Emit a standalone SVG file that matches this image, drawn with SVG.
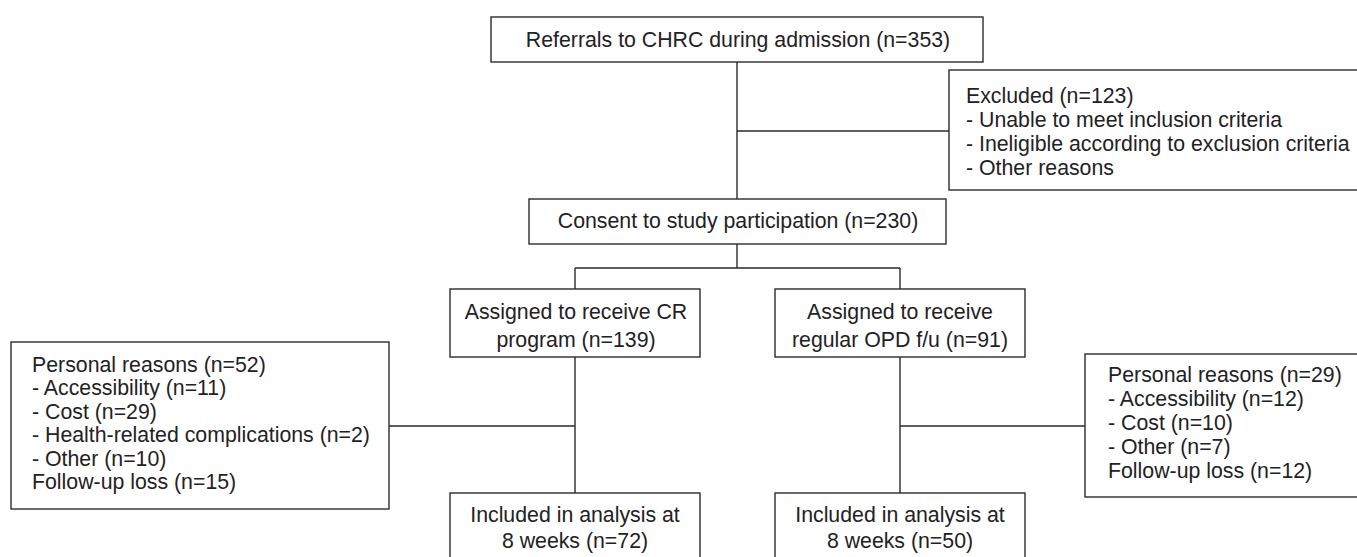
<svg xmlns="http://www.w3.org/2000/svg" width="1357" height="557" viewBox="0 0 1357 557">
<style>
.box{fill:#fff;stroke:#2b2b2b;stroke-width:1.4}
.ln{stroke:#2b2b2b;stroke-width:1.4;fill:none}
text{font-family:"Liberation Sans",Arial,sans-serif;font-size:21.3px;fill:#222}
.c{text-anchor:middle}
</style>
<rect width="1357" height="557" fill="#fff"/>
<g id="connectors">
<path class="ln" d="M737 62V199M737 131H949M737 244V268M575 268H900M575 268V289M900 268V289M575 357V493M389 426H575M900 357V493M900 426H1085"/>
</g>
<g id="referrals">
<rect class="box" x="491" y="17" width="492" height="45"/>
<text class="c" x="738" y="47">Referrals to CHRC during admission (n=353)</text>
</g>
<g id="excluded">
<rect class="box" x="949" y="70" width="410" height="120"/>
<text x="966" y="103">Excluded (n=123)</text>
<text x="966" y="127">- Unable to meet inclusion criteria</text>
<text x="966" y="151">- Ineligible according to exclusion criteria</text>
<text x="966" y="175">- Other reasons</text>
</g>
<g id="consent">
<rect class="box" x="529" y="199" width="417" height="45"/>
<text class="c" x="738" y="228">Consent to study participation (n=230)</text>
</g>
<g id="cr">
<rect class="box" x="450" y="289" width="250" height="68"/>
<text class="c" x="576" y="319">Assigned to receive CR</text>
<text class="c" x="576" y="347">program (n=139)</text>
</g>
<g id="opd">
<rect class="box" x="775" y="289" width="250" height="68"/>
<text class="c" x="900" y="319">Assigned to receive</text>
<text class="c" x="900" y="347">regular OPD f/u (n=91)</text>
</g>
<g id="left-loss">
<rect class="box" x="11" y="342" width="378" height="167"/>
<text x="32" y="372">Personal reasons (n=52)</text>
<text x="32" y="395">- Accessibility (n=11)</text>
<text x="32" y="419">- Cost (n=29)</text>
<text x="32" y="442">- Health-related complications (n=2)</text>
<text x="32" y="466">- Other (n=10)</text>
<text x="32" y="489">Follow-up loss (n=15)</text>
</g>
<g id="right-loss">
<rect class="box" x="1085" y="354" width="275" height="143"/>
<text x="1108" y="382">Personal reasons (n=29)</text>
<text x="1108" y="406">- Accessibility (n=12)</text>
<text x="1108" y="430">- Cost (n=10)</text>
<text x="1108" y="454">- Other (n=7)</text>
<text x="1108" y="478">Follow-up loss (n=12)</text>
</g>
<g id="cr-analysis">
<rect class="box" x="450" y="493" width="250" height="70"/>
<text class="c" x="575" y="522">Included in analysis at</text>
<text class="c" x="575" y="548">8 weeks (n=72)</text>
</g>
<g id="opd-analysis">
<rect class="box" x="775" y="493" width="250" height="70"/>
<text class="c" x="900" y="522">Included in analysis at</text>
<text class="c" x="900" y="548">8 weeks (n=50)</text>
</g>
</svg>
